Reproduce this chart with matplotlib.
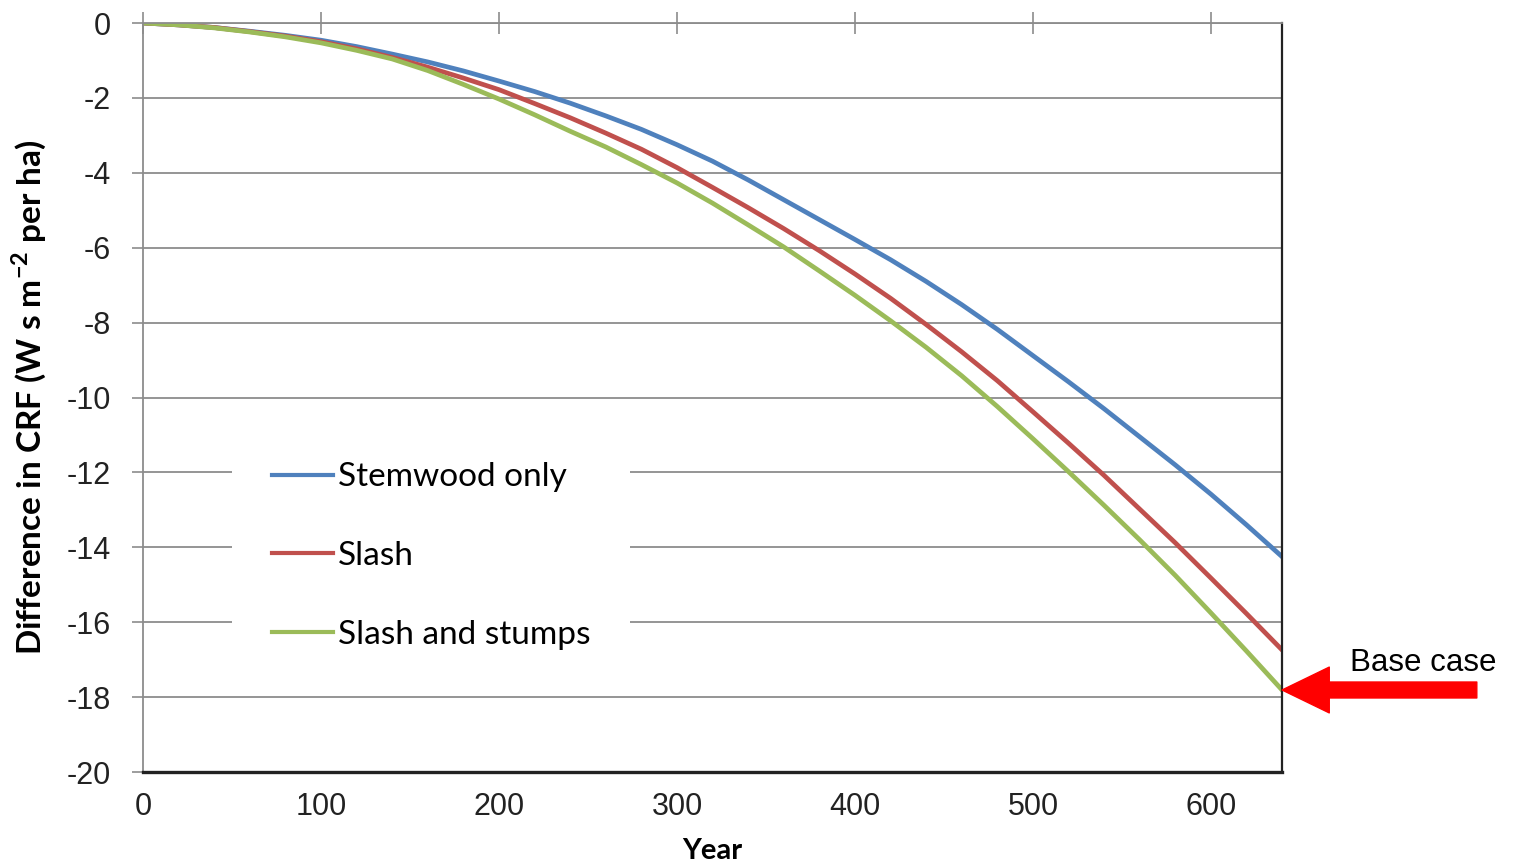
import matplotlib
matplotlib.use('Agg')
import matplotlib.pyplot as plt

# model output, difference in cumulative radiative forcing per hectare
years = [0, 20, 40, 60, 80, 100, 120, 140, 160, 180, 200, 220, 240, 260, 280, 300,
         320, 340, 360, 380, 400, 420, 440, 460, 480, 500, 520, 540, 560, 580, 600,
         620, 640]
stemwood = [0, -0.05, -0.12, -0.22, -0.33, -0.46, -0.63, -0.83, -1.04, -1.28, -1.55,
            -1.83, -2.14, -2.48, -2.84, -3.25, -3.69, -4.19, -4.72, -5.25, -5.78,
            -6.32, -6.90, -7.52, -8.18, -8.88, -9.58, -10.30, -11.05, -11.80, -12.58,
            -13.40, -14.25]
slash = [0, -0.05, -0.12, -0.23, -0.35, -0.50, -0.69, -0.92, -1.18, -1.47, -1.78,
         -2.15, -2.53, -2.94, -3.37, -3.86, -4.39, -4.93, -5.49, -6.08, -6.70,
         -7.35, -8.05, -8.78, -9.55, -10.38, -11.22, -12.08, -12.98, -13.88, -14.82,
         -15.77, -16.74]
slash_stumps = [0, -0.05, -0.13, -0.24, -0.37, -0.53, -0.73, -0.96, -1.27, -1.64, -2.03,
                -2.45, -2.89, -3.31, -3.78, -4.27, -4.81, -5.39, -5.98, -6.62, -7.27,
                -7.95, -8.66, -9.42, -10.24, -11.10, -11.98, -12.88, -13.80, -14.75, -15.75,
                -16.77, -17.81]
series_names = ['Stemwood only', 'Slash', 'Slash and stumps']
series_colors = ['#4F81BD', '#C0504D', '#9BBB59']
xticks = [0, 100, 200, 300, 400, 500, 600]
yticks = list(range(-20, 1, 2))

plt.rcParams['axes.unicode_minus'] = False
plt.rcParams['mathtext.fontset'] = 'custom'
plt.rcParams['mathtext.rm'] = 'Lato'
plt.rcParams['mathtext.bf'] = 'Lato:bold'

grid_col = '#8c8c8c'

fig = plt.figure(figsize=(15.14, 8.65), dpi=100)
ax = fig.add_axes([0.0945, 0.1075, 0.7523, 0.8659])

for vals, name, col in zip([stemwood, slash, slash_stumps], series_names, series_colors):
    ax.plot(years, vals, color=col, lw=3.4, label=name)

ax.set_xlim(0, 640)
ax.set_ylim(-20, 0)
ax.set_xticks(xticks)
ax.set_yticks(yticks)
ax.yaxis.grid(True, color=grid_col, lw=1.3)
ax.set_axisbelow(True)

ax.spines['top'].set_color(grid_col)
ax.spines['top'].set_linewidth(1.3)
ax.spines['left'].set_color(grid_col)
ax.spines['left'].set_linewidth(1.3)
ax.spines['right'].set_color('#222222')
ax.spines['right'].set_linewidth(1.6)
ax.spines['bottom'].set_color('#222222')
ax.spines['bottom'].set_linewidth(2.4)

ax.tick_params(axis='x', bottom=False, top=True, labelbottom=True, labeltop=False,
               direction='inout', length=16.5, width=1.2, color=grid_col, pad=6,
               labelsize=22, labelcolor='#222222')
ax.tick_params(axis='y', direction='out', length=8, width=1.2, color=grid_col, pad=15,
               labelsize=22, labelcolor='#222222')
for lab in ax.get_xticklabels() + ax.get_yticklabels():
    lab.set_family('Liberation Sans')

ax.set_xlabel('Year', fontsize=21, fontweight='bold', family='Lato', va='top')
ax.xaxis.set_label_coords(0.5, -0.088)
ax.set_ylabel(r'Difference in CRF (W s m$^{\mathbf{-2}}$ per ha)', fontsize=24,
              fontweight='bold', family='Lato')
ax.yaxis.set_label_coords(-0.0834, 0.5)

leg = ax.legend(loc='upper left', bbox_to_anchor=(0.078, 0.467), borderaxespad=0,
                frameon=True, facecolor='white', edgecolor='none', framealpha=1,
                fancybox=False, prop={'family': 'Lato', 'size': 24},
                handlelength=1.83, handletextpad=0.15, labelspacing=1.46, borderpad=1.2)
for h in leg.get_lines():
    h.set_linewidth(3.0)

# base case marker
ax.annotate('', xy=(years[-1], slash_stumps[-1]), xytext=(1.171, slash_stumps[-1]),
            textcoords=('axes fraction', 'data'), annotation_clip=False,
            arrowprops=dict(arrowstyle='simple,head_length=3.4,head_width=3.3,tail_width=1.15',
                            mutation_scale=10, color='red', shrinkA=0, shrinkB=0))
ax.text(1.0597, 0.1455, 'Base case', transform=ax.transAxes, ha='left', va='center',
        fontsize=22.5, family='Liberation Sans')

fig.savefig('out.png', dpi=100)
